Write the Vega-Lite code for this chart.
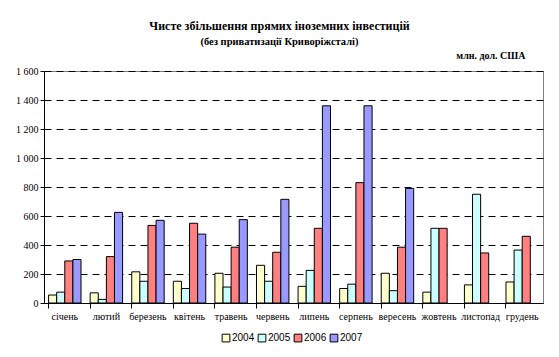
{
  "$schema": "https://vega.github.io/schema/vega-lite/v6.json",
  "width": 499,
  "height": 232,
  "autosize": {"type": "none"},
  "padding": {"left": 44, "top": 71, "right": 16, "bottom": 54},
  "background": "white",
  "title": {
    "text": "Чисте збільшення прямих іноземних інвестицій",
    "subtitle": "(без приватизації Криворіжсталі)",
    "anchor": "middle",
    "frame": "group",
    "dx": -14,
    "offset": 2,
    "font": "Liberation Serif",
    "fontSize": 12,
    "fontWeight": "bold",
    "color": "black",
    "subtitleFont": "Liberation Serif",
    "subtitleFontSize": 10.5,
    "subtitleFontWeight": "bold",
    "subtitleColor": "black",
    "subtitlePadding": 4
  },
  "data": {
    "values": [
      {"month": "січень", "year": "2004", "value": 55},
      {"month": "січень", "year": "2005", "value": 75},
      {"month": "січень", "year": "2006", "value": 290},
      {"month": "січень", "year": "2007", "value": 300},
      {"month": "лютий", "year": "2004", "value": 70},
      {"month": "лютий", "year": "2005", "value": 25},
      {"month": "лютий", "year": "2006", "value": 320},
      {"month": "лютий", "year": "2007", "value": 625},
      {"month": "березень", "year": "2004", "value": 215},
      {"month": "березень", "year": "2005", "value": 150},
      {"month": "березень", "year": "2006", "value": 535},
      {"month": "березень", "year": "2007", "value": 570},
      {"month": "квітень", "year": "2004", "value": 150},
      {"month": "квітень", "year": "2005", "value": 100},
      {"month": "квітень", "year": "2006", "value": 550},
      {"month": "квітень", "year": "2007", "value": 475},
      {"month": "травень", "year": "2004", "value": 205},
      {"month": "травень", "year": "2005", "value": 110},
      {"month": "травень", "year": "2006", "value": 385},
      {"month": "травень", "year": "2007", "value": 575},
      {"month": "червень", "year": "2004", "value": 260},
      {"month": "червень", "year": "2005", "value": 150},
      {"month": "червень", "year": "2006", "value": 350},
      {"month": "червень", "year": "2007", "value": 715},
      {"month": "липень", "year": "2004", "value": 115},
      {"month": "липень", "year": "2005", "value": 225},
      {"month": "липень", "year": "2006", "value": 515},
      {"month": "липень", "year": "2007", "value": 1360},
      {"month": "серпень", "year": "2004", "value": 100},
      {"month": "серпень", "year": "2005", "value": 130},
      {"month": "серпень", "year": "2006", "value": 830},
      {"month": "серпень", "year": "2007", "value": 1360},
      {"month": "вересень", "year": "2004", "value": 205},
      {"month": "вересень", "year": "2005", "value": 85},
      {"month": "вересень", "year": "2006", "value": 385},
      {"month": "вересень", "year": "2007", "value": 790},
      {"month": "жовтень", "year": "2004", "value": 75},
      {"month": "жовтень", "year": "2005", "value": 515},
      {"month": "жовтень", "year": "2006", "value": 515},
      {"month": "листопад", "year": "2004", "value": 125},
      {"month": "листопад", "year": "2005", "value": 750},
      {"month": "листопад", "year": "2006", "value": 345},
      {"month": "грудень", "year": "2004", "value": 145},
      {"month": "грудень", "year": "2005", "value": 365},
      {"month": "грудень", "year": "2006", "value": 460}
    ]
  },
  "mark": {"type": "bar", "stroke": "black", "strokeWidth": 1},
  "encoding": {
    "x": {
      "field": "month",
      "type": "nominal",
      "sort": ["січень", "лютий", "березень", "квітень", "травень", "червень", "липень", "серпень", "вересень", "жовтень", "листопад", "грудень"],
      "scale": {"paddingInner": 0.22, "paddingOuter": 0.11},
      "axis": {
        "title": null,
        "labelAngle": 0,
        "labelFont": "Liberation Serif",
        "labelFontSize": 10,
        "labelColor": "black",
        "bandPosition": 0,
        "tickColor": "black",
        "tickSize": 5,
        "domainColor": "black",
        "labelPadding": 3,
        "grid": false
      }
    },
    "xOffset": {"field": "year", "type": "nominal", "scale": {"paddingInner": 0, "paddingOuter": 0}},
    "y": {
      "field": "value",
      "type": "quantitative",
      "scale": {"domain": [0, 1600]},
      "axis": {
        "title": "млн. дол. США",
        "titleAngle": 0,
        "titleAlign": "right",
        "titleBaseline": "middle",
        "titleX": 481,
        "titleY": -16,
        "titleFont": "Liberation Serif",
        "titleFontSize": 10,
        "titleFontWeight": "bold",
        "titleColor": "black",
        "values": [0, 200, 400, 600, 800, 1000, 1200, 1400, 1600],
        "labelExpr": "replace(format(datum.value, ','), ',', ' ')",
        "labelFont": "Liberation Serif",
        "labelFontSize": 10,
        "labelColor": "black",
        "tickColor": "black",
        "tickSize": 4,
        "domainColor": "black",
        "grid": true,
        "gridColor": "black",
        "gridDash": [7, 5],
        "gridWidth": 1
      }
    },
    "fill": {
      "field": "year",
      "type": "nominal",
      "scale": {"domain": ["2004", "2005", "2006", "2007"], "range": ["#FFFFCC", "#CCFFFF", "#FF8080", "#9999FF"]},
      "legend": {
        "title": null,
        "orient": "none",
        "direction": "horizontal",
        "legendX": 177,
        "legendY": 262,
        "symbolType": "square",
        "symbolSize": 60,
        "symbolStrokeColor": "black",
        "symbolStrokeWidth": 1,
        "labelFont": "Liberation Sans",
        "labelFontSize": 10,
        "labelColor": "black",
        "columnPadding": 1,
        "symbolOffset": 0,
        "labelOffset": 1
      }
    }
  },
  "config": {
    "view": {"stroke": "#808080", "strokeWidth": 1}
  }
}
